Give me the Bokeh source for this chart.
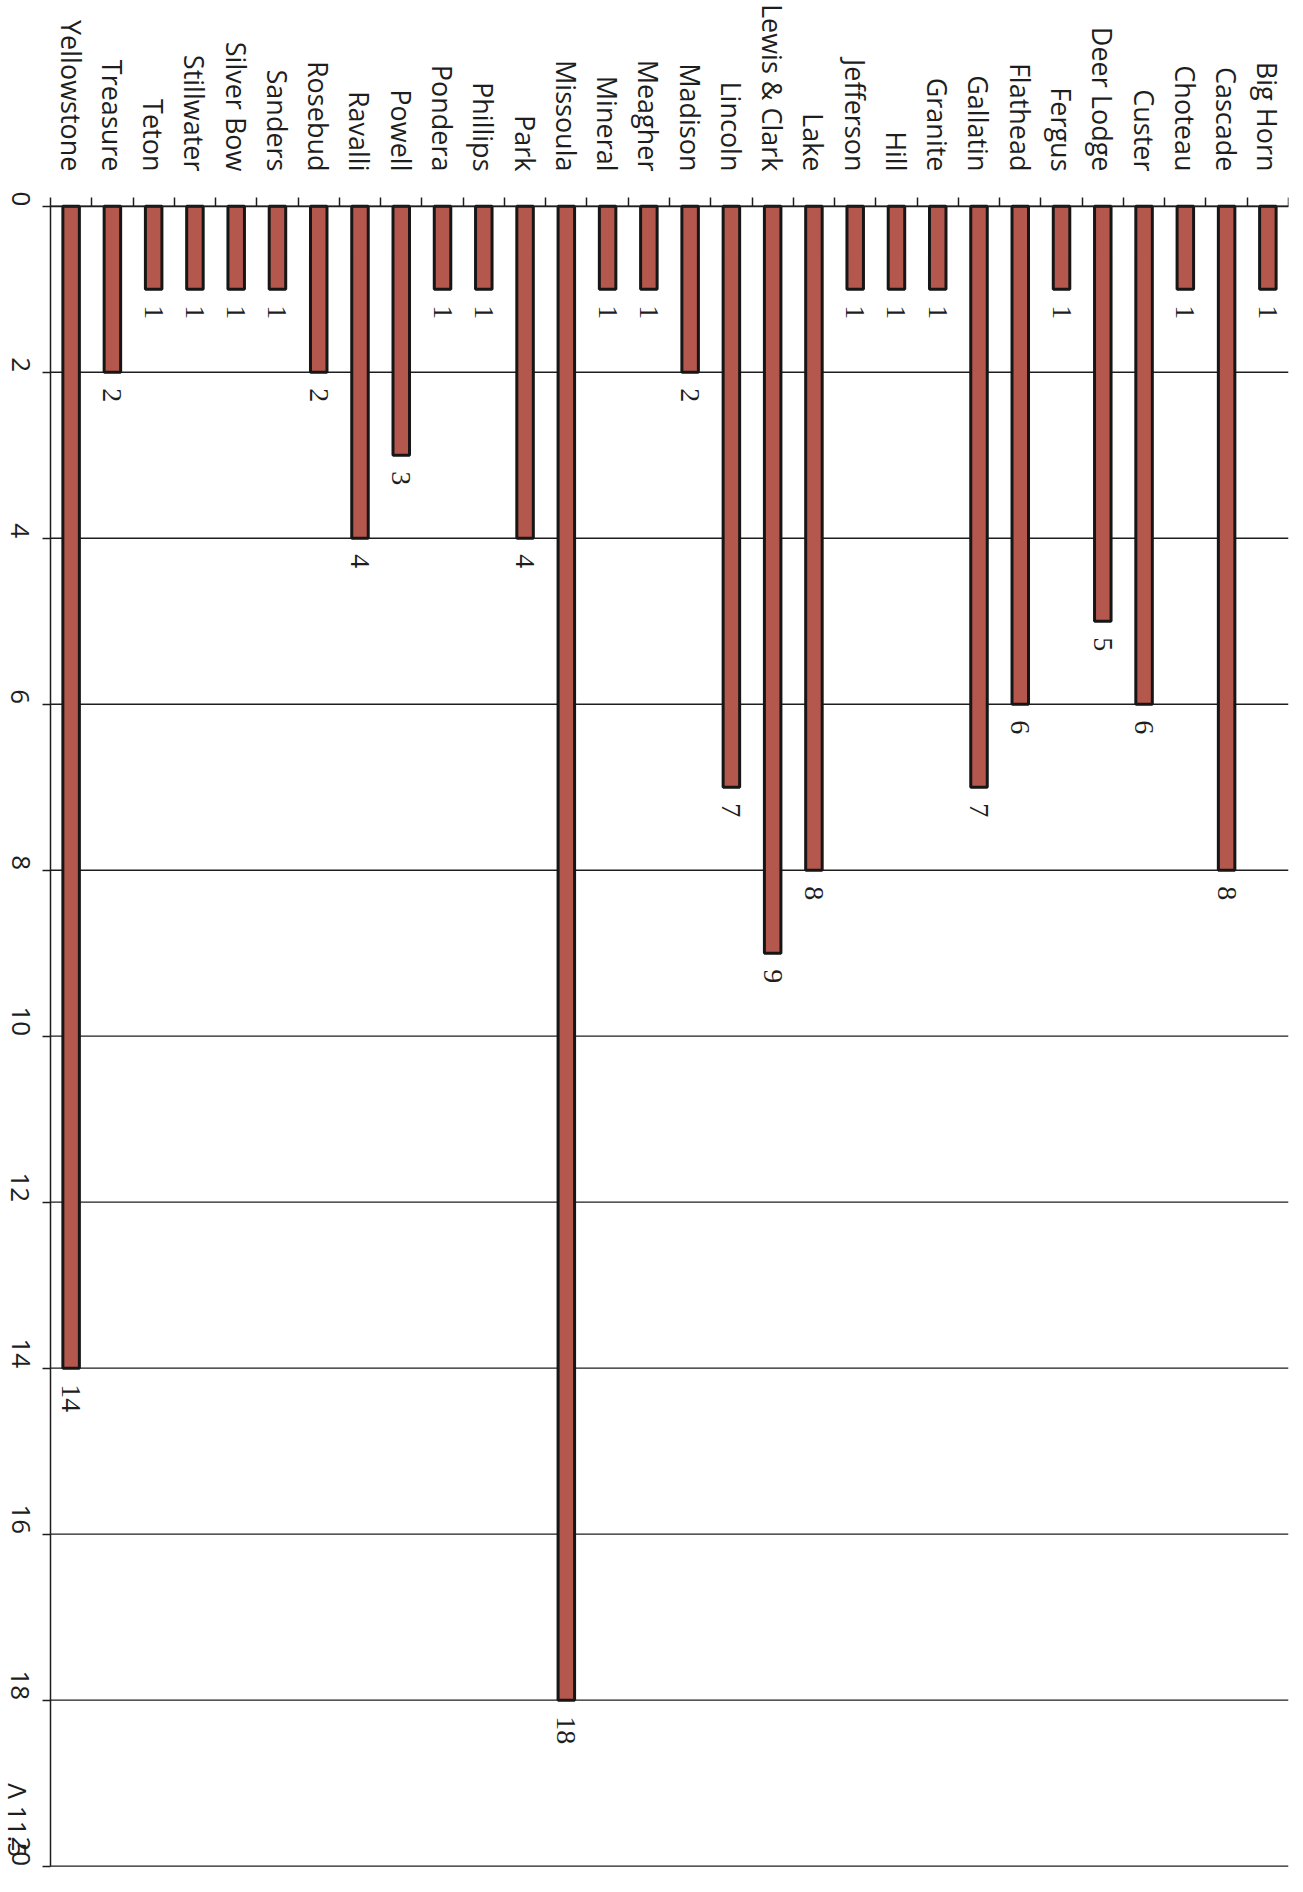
import math
from bokeh.plotting import figure
from bokeh.models import Range1d, FixedTicker, ColumnDataSource, LabelSet, LinearAxis, Label
from bokeh.embed import file_html
from bokeh.resources import INLINE

counties = ["Yellowstone", "Treasure", "Teton", "Stillwater", "Silver Bow", "Sanders",
            "Rosebud", "Ravalli", "Powell", "Pondera", "Phillips", "Park", "Missoula",
            "Mineral", "Meagher", "Madison", "Lincoln", "Lewis & Clark", "Lake",
            "Jefferson", "Hill", "Granite", "Gallatin", "Flathead", "Fergus",
            "Deer Lodge", "Custer", "Choteau", "Cascade", "Big Horn"]
counts = [14, 2, 1, 1, 1, 1, 2, 4, 3, 1, 1, 4, 18, 1, 1, 2, 7, 9, 8, 1, 1, 1, 7, 6, 1,
          5, 6, 1, 8, 1]
value_ticks = [0, 2, 4, 6, 8, 10, 12, 14, 16, 18, 20]
note_text = "\u039b 11.5"

FONT = "Open Sans"
INK = "#1e1e1e"

n = len(counties)
vmax = value_ticks[-1]
# category slot centres (each county occupies one unit slot)
slot = [i + 0.5 for i in range(n)]
src = ColumnDataSource(dict(county=counties, count=counts, slot=slot,
                            count_label=[str(c) for c in counts]))
grid_src = ColumnDataSource(dict(v=value_ticks, x0=[0] * len(value_ticks),
                                 x1=[n] * len(value_ticks)))

# the frame reaches the left page edge; both axes are drawn at 0 inside it
left_pad = 1.2115
top_pad = 0.25
p = figure(width=1298, height=1884,
           x_range=Range1d(-left_pad, n), y_range=Range1d(vmax + 0.1, -top_pad),
           x_axis_location="above",
           output_backend="svg", toolbar_location=None,
           min_border_top=184, min_border_bottom=10, min_border_left=0,
           min_border_right=10)
p.outline_line_color = None
p.background_fill_color = "white"
p.border_fill_color = "white"

# top axis at value 0: boundary ticks between categories
xa = p.xaxis[0]
xa.fixed_location = 0
xa.ticker = FixedTicker(ticks=list(range(n + 1)))
xa.bounds = (0, n)
xa.major_label_text_font_size = "0px"
xa.major_label_text_color = None
xa.major_label_standoff = 0
xa.major_tick_out = 9
xa.major_tick_in = 0
xa.minor_tick_line_color = None
xa.axis_line_color = INK
xa.major_tick_line_color = INK
xa.axis_line_width = 1.5
xa.major_tick_line_width = 1.5

# category names axis
cat_axis = LinearAxis(ticker=FixedTicker(ticks=slot),
                      major_label_overrides={s: c for s, c in zip(slot, counties)},
                      major_label_orientation=-math.pi / 2,
                      major_label_text_font=FONT, major_label_text_font_size="27px",
                      major_label_text_color=INK, major_label_standoff=8,
                      major_tick_line_color=None, minor_tick_line_color=None,
                      axis_line_color=None)
p.add_layout(cat_axis, "above")

# value axis, drawn at x = 0
ya = p.yaxis[0]
ya.fixed_location = 0
ya.bounds = (0, vmax)
ya.ticker = FixedTicker(ticks=value_ticks)
ya.major_label_orientation = -math.pi / 2
ya.major_label_text_font = FONT
ya.major_label_text_font_size = "26px"
ya.major_label_text_color = INK
ya.major_label_standoff = 22
ya.major_tick_out = 8
ya.major_tick_in = 0
ya.minor_tick_line_color = None
ya.axis_line_color = INK
ya.major_tick_line_color = INK
ya.axis_line_width = 1.5
ya.major_tick_line_width = 1.5

p.xgrid.grid_line_color = None
p.ygrid.grid_line_color = None
p.segment(x0="x0", x1="x1", y0="v", y1="v", source=grid_src,
          line_color=INK, line_width=1.3)

p.vbar(x="slot", top="count", bottom=0, width=0.4, source=src,
       fill_color="#B4574D", line_color="#161616", line_width=3)

val_labels = LabelSet(x="slot", y="count", text="count_label", source=src,
                      angle=-math.pi / 2, text_align="left",
                      text_baseline="middle", y_offset=-16, text_font=FONT,
                      text_font_size="28px", text_color=INK)
p.add_layout(val_labels)

note = Label(x=0, y=vmax, text=note_text, angle=-math.pi / 2,
             text_align="right", text_baseline="middle", x_offset=-32, y_offset=9,
             text_font=FONT, text_font_size="26px", text_color=INK)
p.add_layout(note)

open("out.html", "w").write(file_html(p, INLINE))
